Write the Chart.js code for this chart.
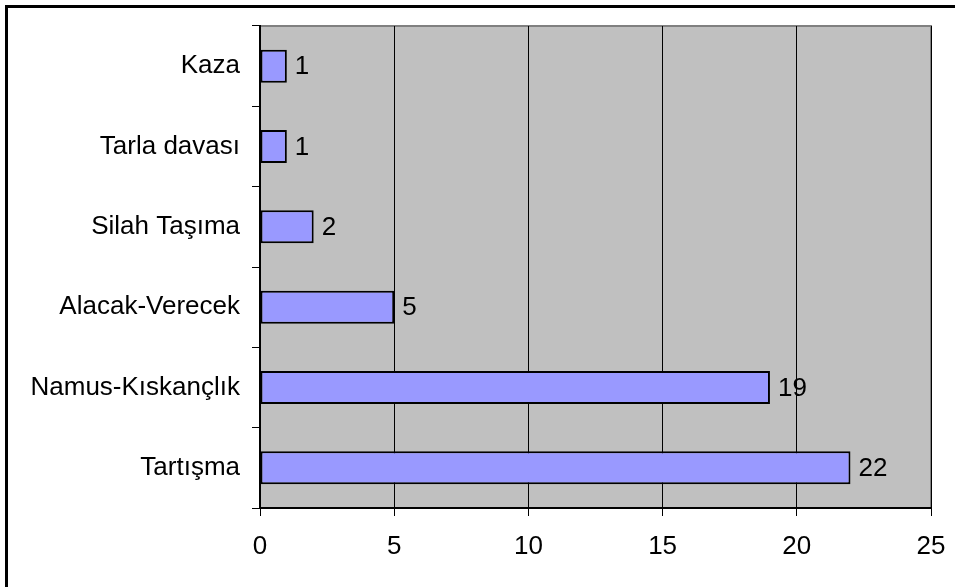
<!DOCTYPE html>
<html>
<head>
<meta charset="utf-8">
<script src="https://cdn.jsdelivr.net/npm/chart.js@4"></script>
<style>
  html, body { margin: 0; padding: 0; background: #fff; }
  #wrap { width: 955px; height: 587px; position: relative; }
  #frame { position: absolute; left: 5px; top: 5px; width: 960px; height: 600px; border-top: 3px solid #000; border-left: 3px solid #000; box-sizing: border-box; pointer-events: none; }
</style>
</head>
<body>
<div id="wrap">
  <canvas id="mychart" width="955" height="587"></canvas>
  <div id="frame"></div>
</div>
<script>
// categories, top to bottom
var categories = ['Kaza', 'Tarla davası', 'Silah Taşıma', 'Alacak-Verecek', 'Namus-Kıskançlık', 'Tartışma'];
var counts = [1, 1, 2, 5, 19, 22];
var xTicks = [0, 5, 10, 15, 20, 25];

var FONT = 'Liberation Sans, Arial, sans-serif';

// gray plot background with gray top/right edge
var plotBack = {
    id: 'plotBack',
    beforeDraw: function(chart) {
        var a = chart.chartArea, ctx = chart.ctx;
        ctx.save();
        ctx.fillStyle = '#C0C0C0';
        ctx.fillRect(a.left, a.top, a.right - a.left, a.bottom - a.top);
        ctx.strokeStyle = '#808080';
        ctx.lineWidth = 2;
        ctx.beginPath();
        ctx.moveTo(a.left, a.top);
        ctx.lineTo(a.right, a.top);
        ctx.lineTo(a.right, a.bottom);
        ctx.stroke();
        ctx.restore();
    }
};

// value next to each bar
var valueLabels = {
    id: 'valueLabels',
    afterDatasetsDraw: function(chart) {
        var ctx = chart.ctx;
        var meta = chart.getDatasetMeta(0);
        ctx.save();
        ctx.font = '26px ' + FONT;
        ctx.fillStyle = '#000';
        ctx.textAlign = 'left';
        ctx.textBaseline = 'middle';
        meta.data.forEach(function(bar, i) {
            ctx.fillText(String(counts[i]), bar.x + 8, bar.y + 1);
        });
        ctx.restore();
    }
};

var ctx = document.getElementById('mychart');
var chart = new Chart(ctx, {
    type: 'bar',
    data: {
        labels: categories,
        datasets: [{
            data: counts,
            backgroundColor: '#9999FF',
            borderColor: '#000000',
            borderWidth: 2,
            borderSkipped: false,
            categoryPercentage: 1,
            barPercentage: 0.41
        }]
    },
    options: {
        indexAxis: 'y',
        responsive: false,
        animation: false,
        layout: { padding: { top: 26, right: 24, left: 0, bottom: 0 } },
        plugins: { legend: { display: false }, tooltip: { enabled: false } },
        scales: {
            x: {
                min: 0,
                max: 25,
                afterBuildTicks: function(scale) {
                    scale.ticks = xTicks.map(function(v) { return { value: v }; });
                },
                afterFit: function(scale) {
                    scale.height = 79;
                    scale.paddingLeft = 0;
                    scale.paddingRight = 0;
                },
                grid: { color: '#000', lineWidth: 1, tickLength: 8, drawTicks: true },
                border: { color: '#000', width: 2 },
                ticks: { color: '#000', font: { size: 26, family: FONT }, padding: 15, maxRotation: 0 }
            },
            y: {
                afterFit: function(scale) {
                    scale.width = 260;
                    scale.paddingTop = 0;
                    scale.paddingBottom = 0;
                },
                grid: { offset: true, drawOnChartArea: false, color: '#000', tickLength: 8 },
                border: { color: '#000', width: 2 },
                ticks: { color: '#000', font: { size: 26, family: FONT }, padding: 12 }
            }
        }
    },
    plugins: [plotBack, valueLabels]
});
</script>
</body>
</html>
